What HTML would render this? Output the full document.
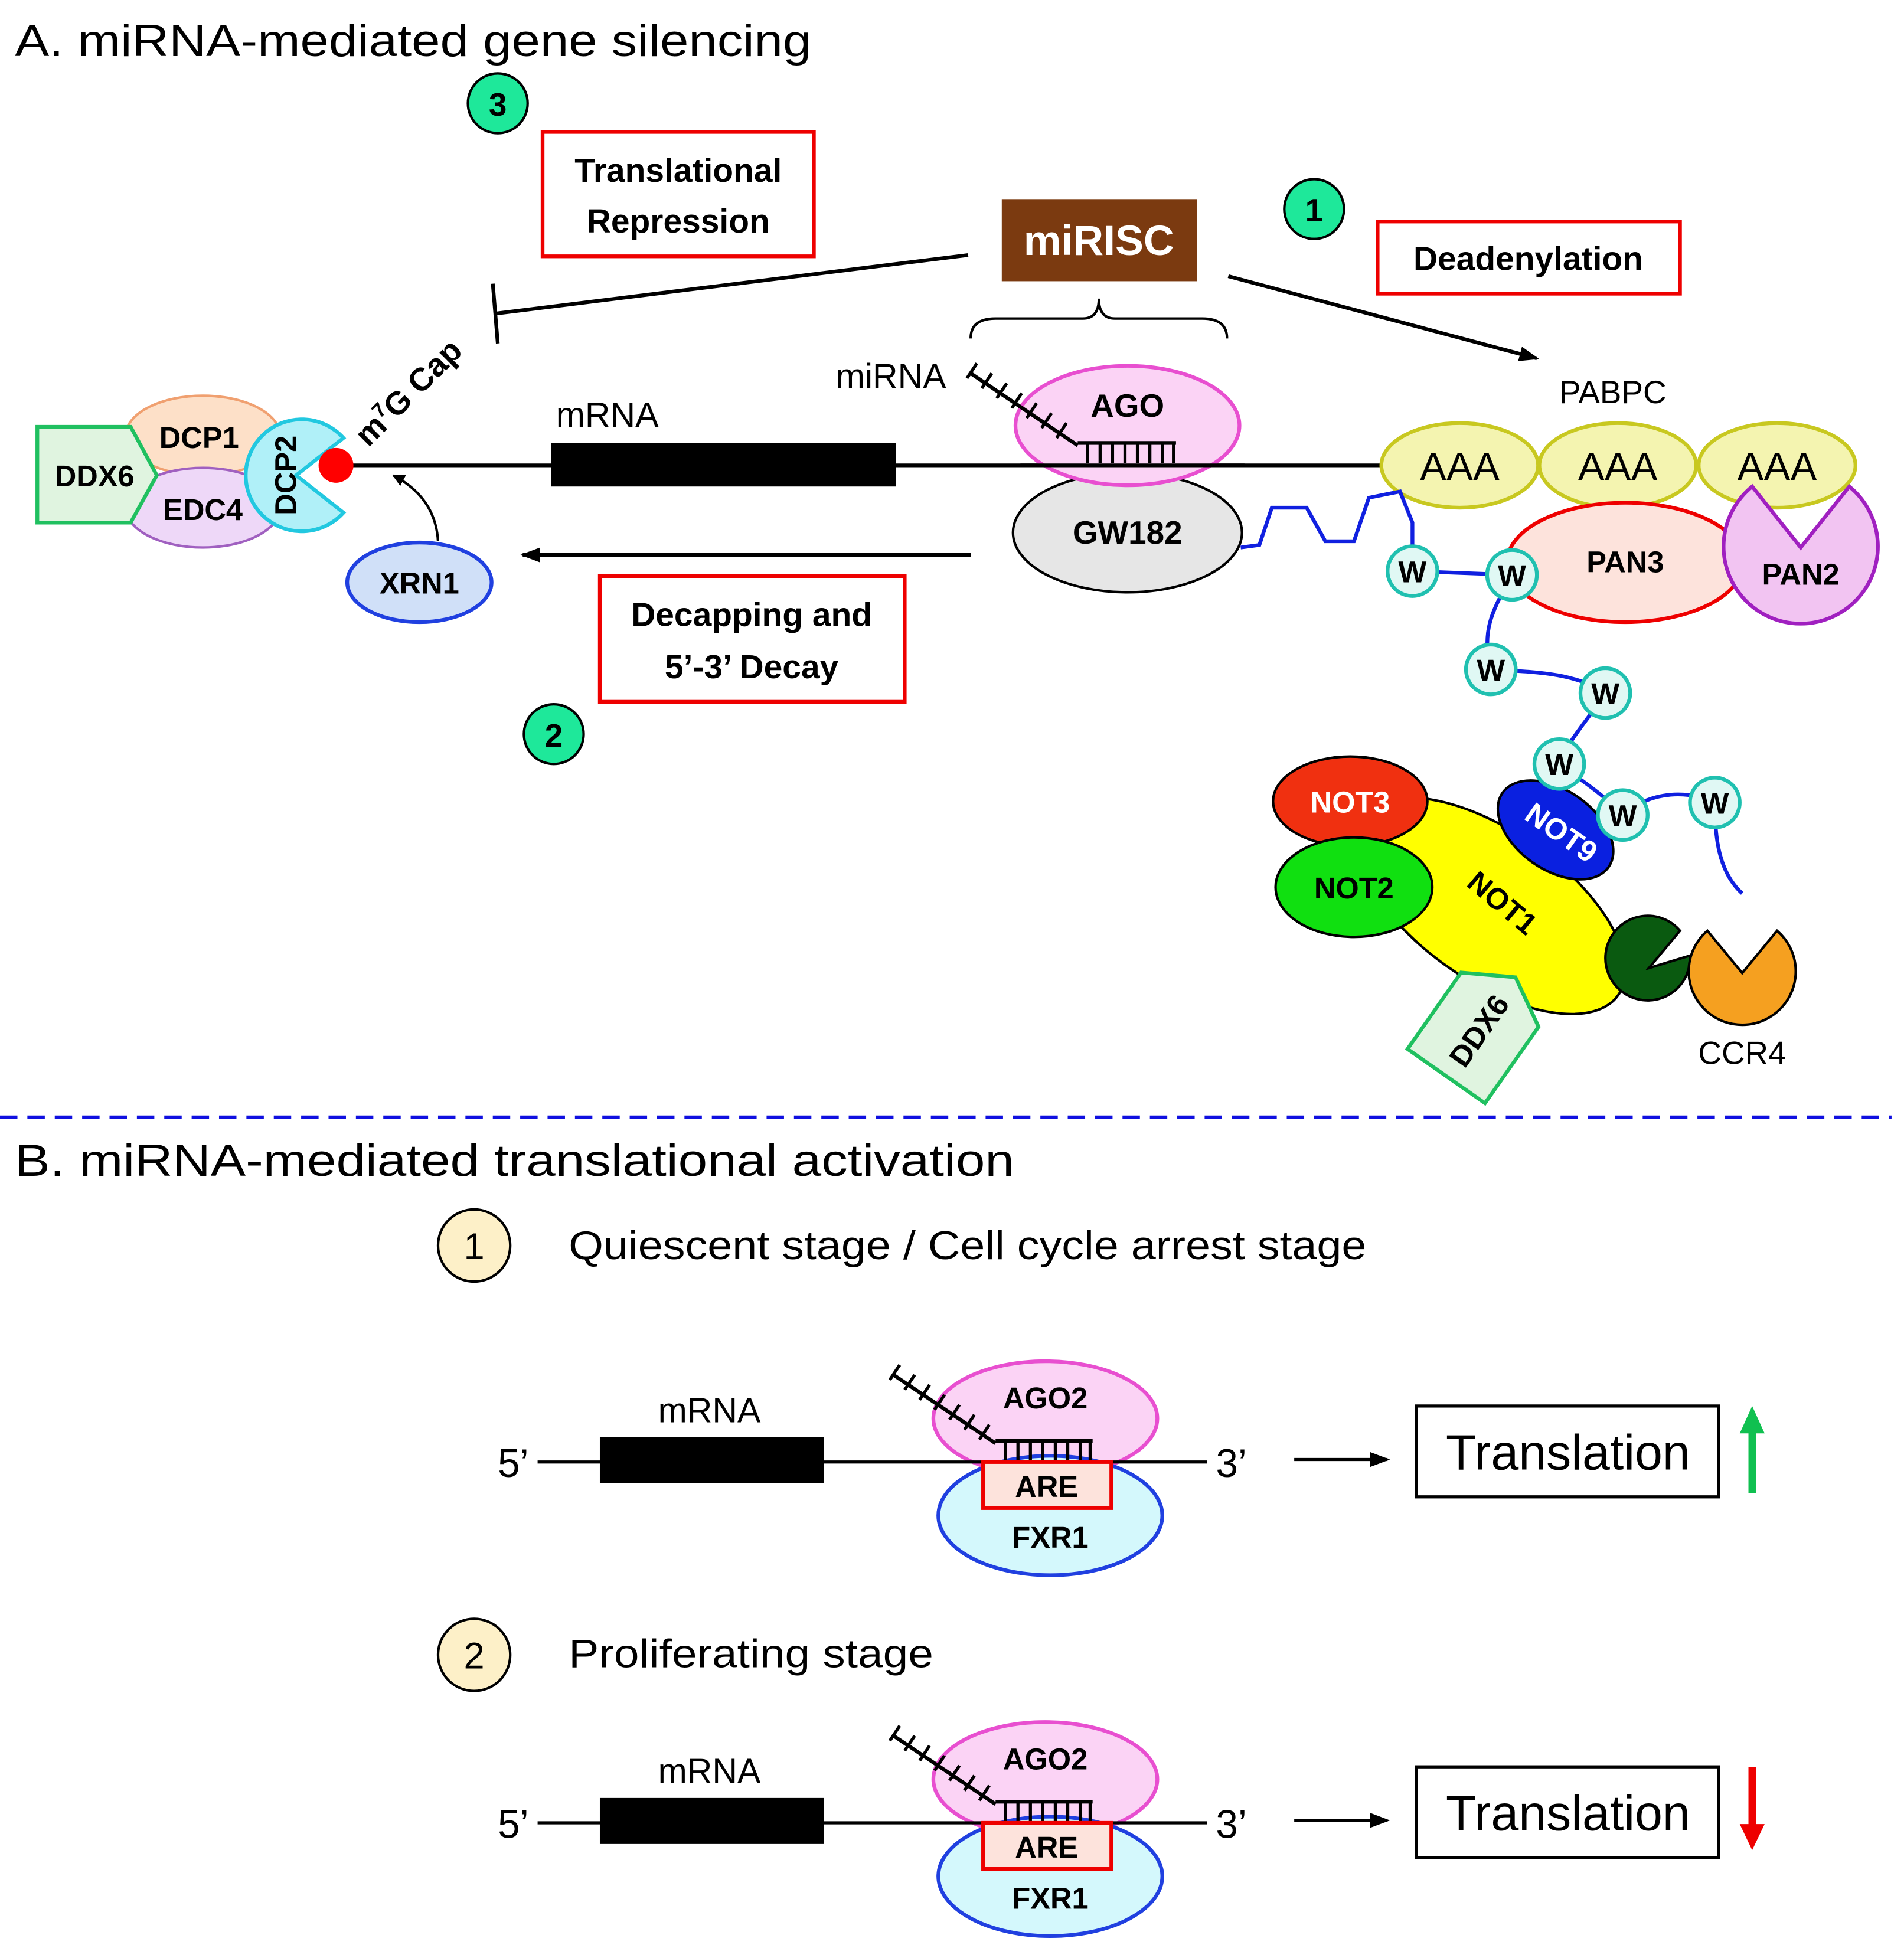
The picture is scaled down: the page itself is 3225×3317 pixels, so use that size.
<!DOCTYPE html>
<html><head><meta charset="utf-8"><style>html,body{margin:0;padding:0;background:#fff}svg{display:block}text{font-family:"Liberation Sans",sans-serif}</style></head><body>
<svg width="3225" height="3317" viewBox="0 0 1530 1573.6" xmlns="http://www.w3.org/2000/svg">
<defs>
<marker id="ah" markerWidth="10" markerHeight="10" refX="9" refY="5" orient="auto" markerUnits="userSpaceOnUse"><path d="M0,0 L10,5 L0,10 z" fill="#000"/></marker>
<marker id="ahs" markerWidth="16" markerHeight="12" refX="14" refY="6" orient="auto" markerUnits="userSpaceOnUse"><path d="M0,0 L16,6 L0,12 z" fill="#000"/></marker>
</defs>
<text x="12" y="45" font-size="36" textLength="640" lengthAdjust="spacingAndGlyphs">A. miRNA-mediated gene silencing</text>
<g stroke="#000" stroke-width="2">
<circle cx="400" cy="83" r="24" fill="#1ee89a"/>
<circle cx="1056" cy="168" r="24" fill="#1ee89a"/>
<circle cx="445" cy="590" r="24" fill="#1ee89a"/>
</g>
<g font-weight="bold" font-size="26" text-anchor="middle">
<text x="400" y="93">3</text><text x="1056" y="178">1</text><text x="445" y="600">2</text>
</g>
<g fill="none" stroke="#e00" stroke-width="3">
<rect x="436" y="106" width="218" height="100"/>
<rect x="1107" y="178" width="243" height="58"/>
<rect x="482" y="463" width="245" height="101"/>
</g>
<g font-weight="bold" font-size="27" text-anchor="middle">
<text x="545" y="146">Translational</text><text x="545" y="187">Repression</text>
<text x="1228" y="217">Deadenylation</text>
<text x="604" y="503">Decapping and</text><text x="604" y="545">5’-3’ Decay</text>
</g>
<rect x="805" y="160" width="157" height="66" fill="#7b3a10"/>
<text x="883" y="205" font-size="34" font-weight="bold" fill="#fff" text-anchor="middle">miRISC</text>
<g stroke="#000" stroke-width="3" fill="none">
<line x1="778" y1="205" x2="398" y2="252"/>
<line x1="396" y1="228" x2="400" y2="276"/>
<line x1="987" y1="222" x2="1235" y2="288" marker-end="url(#ahs)"/>
<path d="M780,272 Q780,256 800,256 L870,256 Q883,256 883,240 Q883,256 896,256 L966,256 Q986,256 986,272" stroke-width="2"/>
<line x1="780" y1="446" x2="420" y2="446" marker-end="url(#ahs)"/>
<line x1="270" y1="374" x2="1115" y2="374"/>
<path d="M352,435 Q350,400 316,382" stroke-width="2" marker-end="url(#ah)"/>
</g>
<rect x="443" y="356" width="277" height="35" fill="#000"/>
<text x="488" y="343" font-size="28" text-anchor="middle">mRNA</text>
<text x="716" y="312" font-size="28" text-anchor="middle">miRNA</text>
<text x="0" y="0" font-size="26" font-weight="bold" transform="translate(296,360) rotate(-45)">m<tspan font-size="16" dy="-10">7</tspan><tspan dy="10">G Cap</tspan></text>
<ellipse cx="906" cy="428" rx="92" ry="48" fill="#e6e6e6" stroke="#000" stroke-width="2"/>
<ellipse cx="906" cy="342" rx="90" ry="48" fill="#fbd3f5" stroke="#e84fd0" stroke-width="3"/>
<line x1="820" y1="374" x2="1000" y2="374" stroke="#000" stroke-width="3"/>
<text x="906" y="335" font-size="26" font-weight="bold" text-anchor="middle">AGO</text>
<text x="906" y="437" font-size="26" font-weight="bold" text-anchor="middle">GW182</text>
<g stroke="#000" stroke-width="3">
<line x1="780" y1="300" x2="866" y2="358"/>
<line x1="866" y1="356" x2="945" y2="356"/>
<path d="M785,292 l-8,12 M797,300 l-8,12 M809,308 l-8,12 M821,316 l-8,12 M833,324 l-8,12 M845,332 l-8,12 M857,340 l-8,12" stroke-width="2.5"/>
<path d="M874,356v16M884,356v16M894,356v16M904,356v16M914,356v16M924,356v16M934,356v16M943,356v16" stroke-width="2.5"/>
</g>
<g fill="#f4f4b0" stroke="#c8c820" stroke-width="3">
<ellipse cx="1173" cy="374" rx="63" ry="34"/><ellipse cx="1300" cy="374" rx="63" ry="34"/><ellipse cx="1428" cy="374" rx="63" ry="34"/>
</g>
<g font-size="32" text-anchor="middle"><text x="1173" y="386">AAA</text><text x="1300" y="386">AAA</text><text x="1428" y="386">AAA</text></g>
<text x="1296" y="324" font-size="26" text-anchor="middle">PABPC</text>
<ellipse cx="1306" cy="452" rx="95" ry="48" fill="#fde3dc" stroke="#e00" stroke-width="3"/>
<text x="1306" y="460" font-size="24" font-weight="bold" text-anchor="middle">PAN3</text>
<path d="M1447,440 L1408,391 A62,62 0 1 0 1486,391 Z" fill="#f2c4f2" stroke="#a020c0" stroke-width="3"/>
<text x="1447" y="470" font-size="24" font-weight="bold" text-anchor="middle">PAN2</text>
<ellipse cx="163" cy="350" rx="62" ry="32" fill="#fde0c8" stroke="#f0a070" stroke-width="2"/>
<ellipse cx="163" cy="408" rx="62" ry="32" fill="#eed8f8" stroke="#a060c0" stroke-width="2"/>
<text x="160" y="360" font-size="24" font-weight="bold" text-anchor="middle">DCP1</text>
<text x="163" y="418" font-size="24" font-weight="bold" text-anchor="middle">EDC4</text>
<polygon points="30,343 105,343 126,382 105,420 30,420" fill="#e0f4e0" stroke="#20c060" stroke-width="3"/>
<text x="76" y="391" font-size="24" font-weight="bold" text-anchor="middle">DDX6</text>
<path d="M238,382 L276,352 A45,45 0 1 0 276,412 Z" fill="#b0f0f8" stroke="#22c8e0" stroke-width="3"/>
<text x="0" y="0" font-size="24" font-weight="bold" text-anchor="middle" transform="translate(238,382) rotate(-90)">DCP2</text>
<circle cx="270" cy="374" r="14" fill="#f00"/>
<ellipse cx="337" cy="468" rx="58" ry="32" fill="#d0e0f8" stroke="#2040e0" stroke-width="3"/>
<text x="337" y="477" font-size="24" font-weight="bold" text-anchor="middle">XRN1</text>
<path d="M997,440 L1012,438 L1022,408 L1050,408 L1065,435 L1088,435 L1100,400 L1125,395 L1135,420 L1135,459 L1215,462 C1200,490 1190,505 1198,538 C1230,540 1265,540 1290,557 C1275,580 1260,595 1253,614 C1275,630 1290,640 1304,655 C1320,640 1350,632 1378,645 C1378,670 1380,700 1400,718" fill="none" stroke="#1020e0" stroke-width="3"/>
<ellipse cx="1198" cy="728" rx="125" ry="60" transform="rotate(35 1198 728)" fill="#ffff00" stroke="#000" stroke-width="2"/>
<ellipse cx="1085" cy="644" rx="62" ry="36" fill="#f03010" stroke="#000" stroke-width="2"/>
<ellipse cx="1088" cy="713" rx="63" ry="40" fill="#10e010" stroke="#000" stroke-width="2"/>
<ellipse cx="1250" cy="667" rx="52" ry="32" transform="rotate(35 1250 667)" fill="#0a20e0" stroke="#000" stroke-width="2"/>
<text x="1085" y="653" font-size="24" font-weight="bold" fill="#fff" text-anchor="middle">NOT3</text>
<text x="1088" y="722" font-size="24" font-weight="bold" text-anchor="middle">NOT2</text>
<text font-size="24" font-weight="bold" fill="#fff" text-anchor="middle" transform="translate(1250,676) rotate(35)">NOT9</text>
<text font-size="24" font-weight="bold" text-anchor="middle" transform="translate(1202,732) rotate(40)">NOT1</text>
<g transform="translate(1188,828) rotate(-55)">
<polygon points="-45,-38 30,-38 52,0 30,38 -45,38" fill="#e0f4e0" stroke="#20c060" stroke-width="3"/>
<text x="0" y="9" font-size="24" font-weight="bold" text-anchor="middle">DDX6</text>
</g>
<path d="M1325,778 L1350,748 A34,34 0 1 0 1358,768 Z" fill="#0a5a10" stroke="#000" stroke-width="2"/>
<path d="M1400,782 L1372,748 A43,43 0 1 0 1428,748 Z" fill="#f5a020" stroke="#000" stroke-width="2"/>
<text x="1400" y="855" font-size="26" text-anchor="middle">CCR4</text>
<g fill="#e0f8f4" stroke="#20c0b0" stroke-width="3">
<circle cx="1135" cy="459" r="20"/><circle cx="1215" cy="462" r="20"/><circle cx="1198" cy="538" r="20"/><circle cx="1290" cy="557" r="20"/><circle cx="1253" cy="614" r="20"/><circle cx="1304" cy="655" r="20"/><circle cx="1378" cy="645" r="20"/>
</g>
<g font-size="24" font-weight="bold" text-anchor="middle">
<text x="1135" y="468">W</text><text x="1215" y="471">W</text><text x="1198" y="547">W</text><text x="1290" y="566">W</text><text x="1253" y="623">W</text><text x="1304" y="664">W</text><text x="1378" y="654">W</text>
</g>
<line x1="0" y1="898" x2="1520" y2="898" stroke="#1010e0" stroke-width="3" stroke-dasharray="14 8"/>
<text x="12" y="945" font-size="36" textLength="803" lengthAdjust="spacingAndGlyphs">B. miRNA-mediated translational activation</text>
<circle cx="381" cy="1001" r="29" fill="#fdf0c8" stroke="#000" stroke-width="2"/>
<text x="381" y="1012" font-size="30" text-anchor="middle">1</text>
<text x="457" y="1012" font-size="32" textLength="641" lengthAdjust="spacingAndGlyphs">Quiescent stage / Cell cycle arrest stage</text>
<circle cx="381" cy="1330" r="29" fill="#fdf0c8" stroke="#000" stroke-width="2"/>
<text x="381" y="1341" font-size="30" text-anchor="middle">2</text>
<text x="457" y="1340" font-size="32" textLength="293" lengthAdjust="spacingAndGlyphs">Proliferating stage</text>
<g id="row">
<ellipse cx="840" cy="1140" rx="90" ry="46" fill="#fbd3f5" stroke="#e84fd0" stroke-width="3"/>
<ellipse cx="844" cy="1218" rx="90" ry="48" fill="#d4f8fc" stroke="#2040e0" stroke-width="3"/>
<line x1="432" y1="1175" x2="970" y2="1175" stroke="#000" stroke-width="2.5"/>
<rect x="482" y="1155" width="180" height="37" fill="#000"/>
<text x="570" y="1143" font-size="28" text-anchor="middle">mRNA</text>
<text x="400" y="1187" font-size="32">5’</text>
<text x="977" y="1187" font-size="32">3’</text>
<g stroke="#000" stroke-width="3">
<line x1="718" y1="1105" x2="800" y2="1160"/>
<line x1="800" y1="1158" x2="878" y2="1158"/>
<path d="M723,1097 l-8,12 M735,1105 l-8,12 M747,1113 l-8,12 M759,1121 l-8,12 M771,1129 l-8,12 M783,1137 l-8,12 M795,1145 l-8,12" stroke-width="2.5"/>
<path d="M808,1158v16M818,1158v16M828,1158v16M838,1158v16M848,1158v16M858,1158v16M868,1158v16M876,1158v16" stroke-width="2.5"/>
</g>
<rect x="790" y="1175" width="103" height="37" fill="#fde3dc" stroke="#e00" stroke-width="3"/>
<text x="841" y="1203" font-size="24" font-weight="bold" text-anchor="middle">ARE</text>
<text x="840" y="1132" font-size="24" font-weight="bold" text-anchor="middle">AGO2</text>
<text x="844" y="1244" font-size="24" font-weight="bold" text-anchor="middle">FXR1</text>
<line x1="1040" y1="1173" x2="1115" y2="1173" stroke="#000" stroke-width="2.5" marker-end="url(#ahs)"/>
<rect x="1138" y="1130" width="243" height="73" fill="#fff" stroke="#000" stroke-width="2.5"/>
<text x="1260" y="1181" font-size="40" text-anchor="middle">Translation</text>
</g>
<use href="#row" transform="translate(0,290)"/>
<line x1="1408" y1="1200" x2="1408" y2="1150" stroke="#10c050" stroke-width="6"/>
<path d="M1398,1152 L1408,1130 L1418,1152 Z" fill="#10c050"/>
<line x1="1408" y1="1420" x2="1408" y2="1468" stroke="#e00" stroke-width="6"/>
<path d="M1398,1466 L1408,1487 L1418,1466 Z" fill="#e00"/>
</svg>
</body></html>
